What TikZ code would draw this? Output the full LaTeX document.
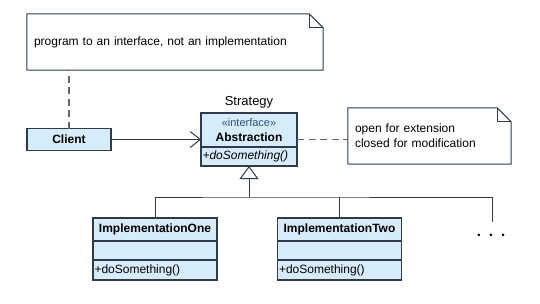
\documentclass[tikz,border=0pt,12pt]{standalone}
\usepackage{fontspec}
\setmainfont{Liberation Sans}
\usepackage{xcolor}
\usepackage{tikz}
\usetikzlibrary{arrows.meta,positioning,calc}
\definecolor{umlfill}{RGB}{214,236,250}
\definecolor{umlline}{RGB}{45,60,72}
\definecolor{stereo}{RGB}{50,80,125}
\tikzset {
    classpart/.style={draw=umlline, fill=umlfill, line width=1.1pt,
        outer sep=0pt, inner sep=1.5pt, minimum width=124pt},
    classname/.style={classpart, font=\bfseries, minimum height=23pt},
    classattr/.style={classpart, minimum height=19pt},
    classop/.style={classpart, minimum height=20pt,
        text width=121pt, align=left},
    notebox/.style={inner sep=7pt, minimum height=56pt, align=left},
    noteline/.style={draw=umlline, line width=1pt},
    anchorline/.style={draw=gray!80!black, line width=1.4pt,
        dash pattern=on 7pt off 4.5pt},
    assoc/.style={draw=umlline, line width=1pt,
        -{Straight Barb[length=10pt, width=16pt, line width=1pt]}},
    realize/.style={draw=umlline, line width=1pt,
        -{Triangle[open, length=13pt, width=19pt, fill=white]}},
    branch/.style={draw=umlline, line width=1pt}
}

\begin{document}
\begin{tikzpicture}[x=1pt, y=-1pt]

        \useasboundingbox (0,0) rectangle (540,303);

        \node[notebox, minimum width=296pt, text width=282pt] (hint)
            at (175,42) {program to an interface, not an implementation};
        \node[classname, minimum width=84pt, minimum height=22pt] (client)
            at (69,139.5) {Client};

        \node[classpart, minimum width=96pt, minimum height=34pt,
            align=center, inner sep=1pt] (abs) at (249,130)
            {{\fontsize{11}{13}\selectfont\color{stereo}«interface»}\\
             \textbf{Abstraction}};
        \node[classpart, minimum width=96pt, minimum height=19pt,
            text width=93pt, align=left, font=\itshape, below=0pt of abs]
            (absops) {+doSomething()};
        \node[inner sep=1pt, above=4pt of abs, font=\fontsize{13}{15}\selectfont]
            (strategy) {Strategy};

        \node[notebox, minimum width=163pt, text width=149pt,
            font=\fontsize{12}{15}\selectfont] (principle)
            at (429.5,136) {open for extension\\closed for modification};

        \node[classname] (one) at (155,229.5) {ImplementationOne};
        \node[classattr, below=0pt of one] (oneattr) {};
        \node[classop, below=0pt of oneattr] (oneops) {+doSomething()};

        \node[classname] (two) at (339.5,229.5) {ImplementationTwo};
        \node[classattr, below=0pt of two] (twoattr) {};
        \node[classop, below=0pt of twoattr] (twoops) {+doSomething()};

        \node[font=\fontsize{15}{15}\selectfont\bfseries] (more)
            at (491,235.5) {.\hspace{8pt}.\hspace{8pt}.};

        \coordinate (joint) at (249,197);
        \coordinate (moreend) at (492,222);

        \draw[noteline] (hint.south west) |- ($(hint.north east)+(-14pt,0)$)
            -- ($(hint.north east)+(0,-14pt)$) |- (hint.south west);
        \draw[noteline] ($(hint.north east)+(-14pt,0)$)
            |- ($(hint.north east)+(0,-14pt)$);
        \draw[noteline] (principle.south west)
            |- ($(principle.north east)+(-14pt,0)$)
            -- ($(principle.north east)+(0,-14pt)$) |- (principle.south west);
        \draw[noteline] ($(principle.north east)+(-14pt,0)$)
            |- ($(principle.north east)+(0,-14pt)$);

        \draw[anchorline] (client.north) -- (client.north |- hint.south);
        \draw[anchorline] (abs.east |- client.east) -- (client.east -| principle.west);
        \draw[assoc] (client.east) -- (client.east -| abs.west);

        \draw[branch] (one.north) |- (joint) -| (moreend);
        \draw[branch] (two.north) -- (two.north |- joint);
        \draw[realize] (joint) -- (absops.south);

    \end{tikzpicture}
\end{document}
